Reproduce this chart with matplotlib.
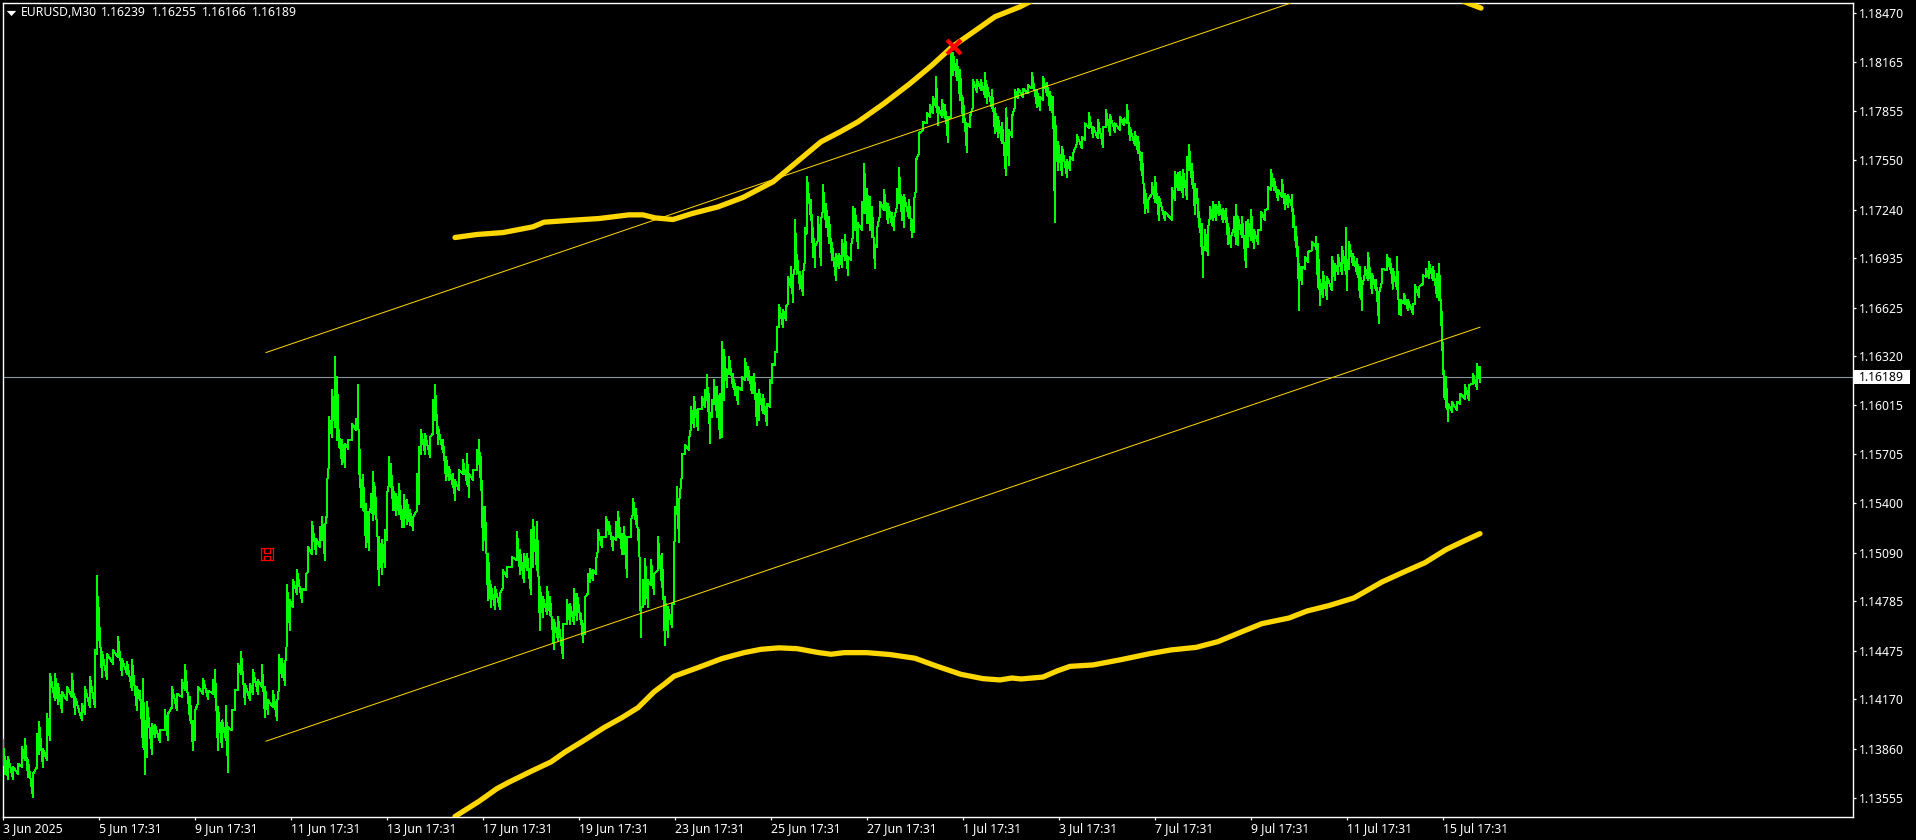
#!/usr/bin/env python3
import matplotlib
matplotlib.use("Agg")
import matplotlib.pyplot as plt
import numpy as np
from matplotlib.patches import Rectangle
from matplotlib.path import Path

W, H = 1916, 840

# green price trace. bar number on M30, low and high
# prices are in points above 1.00000
bar_x = [
    0,2,5,10,15,19,22,25,30,34,36,40,44,47,52,55,59,64,69,72,79,82,87,92,94,95,99,104,110,115,119,124,129,134,137,
    140,142,144,149,152,157,162,165,169,174,179,182,187,190,192,195,200,205,210,212,215,219,223,225,229,232,235,238,
    242,247,250,255,259,262,265,270,274,276,279,282,
    284,287,290,294,299,303,305,309,313,317,319,322,324,326,329,332,334,336,339,342,345,349,353,355,356,358,360,363,
    366,368,370,372,374,376,379,382,384,386,388,390,393,396,399,401,404,407,410,414,416,418,422,427,430,432,435,440,
    443,446,450,452,456,460,464,466,470,474,476,478,480,482,485,488,492,497,500,504,509,514,517,521,524,528,530,534,
    537,540,544,547,551,555,560,564,567,571,574,578,580,582,585,587,590,593,595,599,603,606,610,613,615,619,621,624,
    628,630,633,636,638,640,642,645,648,651,655,659,662,665,669,671,672,674,676,679,682,686,688,691,695,
    699,702,704,706,707,709,711,714,717,719,721,724,726,730,732,735,739,742,745,749,751,754,756,760,764,767,769,772,
    774,776,780,783,785,788,790,792,794,797,800,802,804,808,810,812,815,818,820,823,826,829,833,836,839,842,845,848,
    850,852,855,859,861,864,867,869,872,874,877,881,885,889,891,894,896,899,901,906,909,911,913,
    916,920,924,927,930,933,935,939,942,945,948,950,954,957,960,964,967,970,974,978,982,984,989,992,995,999,1003,1006,
    1009,1012,1015,1020,1025,1029,1034,1037,1040,1044,1047,1050,1052,1055,1059,1064,1067,1070,1074,1079,1082,1086,
    1090,1095,1100,1103,1107,1112,1117,1121,1124,1127,1132,1135,1139,1142,1145,1149,1152,1156,1162,1169,1172,1175,
    1177,1180,1184,1186,1189,1192,1194,1196,1199,1200,1202,1205,1207,1210,1213,1216,1220,1223,1225,1228,1231,1233,
    1235,1239,1243,1245,1248,1251,1255,1258,1262,1265,1268,1271,1275,1279,1282,1285,1289,1290,1293,1295,1296,1299,
    1302,1305,1309,1313,1315,1317,1320,1324,1329,1332,1335,1339,1343,1344,1346,1350,1354,1357,1359,1362,1365,1369,
    1373,1376,1379,1384,1387,1390,1394,1396,1398,1401,1405,1410,1412,1416,1420,1423,1426,1430,1434,1436,1438,1439,
    1440,1441,1443,1445,1449,1454,1457,1462,1466,1470,1474,1477,
]
bar_low = [
    13829,13704,13673,13673,13704,13746,13788,13683,13558,13746,13829,13746,13788,13913,14164,14143,14091,14164,14185,
    14080,14038,14080,14122,14122,14456,14540,14310,14300,14394,14436,14321,14331,14226,14101,14164,
    13871,13704,13809,13829,13934,13903,13976,13913,14122,14101,14185,14226,14038,13850,13913,14143,14206,14174,14206,
    14185,13850,13871,13913,13714,13976,14101,14226,14331,14143,14164,14206,14206,14247,14059,14080,14122,14038,14247,
    14310,14258,
    14540,14603,14749,14833,14780,14854,14968,15083,15083,15125,15167,15042,15334,15648,15815,15878,15794,15752,15648,
    15627,15742,15794,15857,15878,15585,15376,15355,15125,15104,15376,15292,15334,15230,14885,14958,15000,15167,15522,
    15501,15355,15324,15334,15251,15251,15272,15261,15230,15355,15397,15710,15710,15690,15836,15919,15773,15721,15543,
    15543,15501,15418,15480,15585,15522,15439,15543,15606,15648,15480,15104,15167,14791,14749,14739,14739,14874,14937,
    15000,15042,14958,14906,14979,14833,15000,14979,14603,14686,14707,14697,14486,14540,14431,14645,14645,14645,14665,
    14645,14527,14582,14833,14906,14916,14958,15104,15125,15188,15209,15104,15167,15188,15083,15083,14937,15188,15334,
    15272,15125,14561,14749,14770,14749,14885,14833,14979,14874,14509,14561,14624,14770,15251,15334,15157,15585,15710,
    15731,15878,15878,15857,
    15993,16003,16045,15899,15774,15941,16024,15941,15805,15815,16045,16129,16212,16129,16077,16024,16108,16171,16171,
    16087,16087,15888,15920,15962,15888,16003,16150,16265,16348,16505,16505,16547,16651,16756,16662,16881,16839,16745,
    16704,16923,17090,17174,16944,16881,17048,16892,17237,17132,17028,16923,16798,16871,16881,16923,16829,16923,17069,
    17111,16996,17111,17216,17153,17111,17069,16871,17007,17205,17237,17153,17143,17111,17257,17278,17174,17132,17184,
    17069,17101,17362,
    17592,17738,17780,17822,17843,17885,17770,17822,17811,17665,17811,18083,18052,17926,17791,17602,17759,17885,17979,
    17989,17947,17906,17874,17717,17697,17655,17456,17519,17697,17885,17937,17947,17968,17999,17885,17864,17926,17958,
    17864,17822,17161,17487,17456,17446,17487,17550,17655,17623,17676,17749,17697,17686,17634,17759,17707,17728,17738,
    17770,17780,17676,17644,17592,17456,17216,17226,17341,17289,17174,17174,17174,17299,17362,
    17362,17320,17309,17487,17403,17215,17278,17132,16964,16818,16985,16954,17194,17173,17173,17205,17163,17163,17027,
    17006,17121,17027,17017,17069,16881,17006,17048,16996,17027,17111,17173,17246,17362,17362,17299,17320,17246,17257,
    17257,17132,17006,16881,16609,16776,16870,16912,16985,17006,16755,16640,16693,16682,16734,16797,16839,16839,16839,
    16734,16870,16891,16839,16693,16609,16839,16797,16714,16734,16530,16787,16860,16870,16745,16745,16588,16578,16651,
    16609,16588,16651,16693,16776,16818,16808,16797,16693,16672,16599,16358,16212,16066,16003,15915,15972,15982,16024,
    16055,16045,16149,16118,16160,
]
bar_high = [
    13913,13809,13809,13746,13767,13871,13923,13788,13704,13955,14028,13861,14080,14331,14331,14268,14216,14247,14331,
    14185,14143,14247,14310,14477,14941,14812,14467,14456,14477,14561,14425,14404,14415,14247,14226,
    14300,14038,14153,14017,14007,13976,14101,14080,14247,14206,14289,14383,14185,14038,14101,14247,14300,14226,14289,
    14352,14122,14038,14132,13997,14101,14226,14394,14467,14268,14268,14352,14289,14383,14247,14164,14226,14143,14446,
    14425,14373,
    14885,14791,14916,14979,14864,14958,15125,15282,15177,15251,15313,15251,15522,15940,16107,16316,16191,15836,15794,
    15773,15794,15899,15930,16139,15857,15543,15575,15397,15334,15460,15595,15501,15292,15188,15167,15230,15460,15690,
    15648,15501,15460,15522,15355,15449,15418,15355,15313,15585,15752,15857,15836,15815,16045,16139,15878,15794,15690,
    15627,15585,15543,15606,15669,15710,15585,15606,15731,15794,15690,15376,15376,15083,14885,14874,14833,14979,15000,
    15062,15219,15104,15083,15083,15230,15292,15282,14874,14812,14874,14812,14665,14686,14645,14791,14770,14864,14833,
    14707,14645,14812,14958,14989,14979,15042,15230,15188,15313,15282,15188,15282,15345,15209,15251,15188,15292,15428,
    15366,15230,14749,14916,15052,14916,15042,14958,15188,15083,14812,14749,14770,15062,15376,15501,15397,15710,15763,
    15794,16003,16066,15992,
    16066,16108,16202,16087,15962,16045,16171,16129,16087,16411,16359,16233,16317,16212,16150,16129,16191,16306,16254,
    16191,16212,16087,16108,16077,16024,16171,16275,16348,16505,16641,16610,16630,16818,16881,16818,17174,16954,16850,
    16839,17122,17446,17299,17122,17007,17195,17174,17393,17278,17195,17028,16965,16965,17048,17080,16944,17017,17257,
    17247,17153,17289,17529,17372,17320,17257,17017,17122,17289,17362,17278,17216,17184,17372,17498,17320,17331,17299,
    17174,17299,17550,
    17717,17791,17843,17895,17947,18073,17885,17926,17895,17822,18219,18219,18177,18115,17937,17780,17822,18052,18052,
    18052,18094,18020,17989,17874,17822,17780,17874,17738,17822,17989,17999,17999,18020,18094,17989,17947,18073,18031,
    17979,17947,17822,17665,17634,17550,17571,17592,17707,17697,17780,17843,17759,17801,17759,17864,17832,17780,17822,
    17811,17895,17749,17728,17697,17592,17362,17299,17404,17446,17320,17226,17373,17477,17467,
    17476,17487,17570,17644,17529,17403,17372,17226,17152,17006,17111,17121,17257,17288,17267,17288,17247,17247,17152,
    17069,17194,17267,17194,17194,17163,17173,17236,17111,17111,17226,17236,17382,17487,17435,17362,17424,17341,17330,
    17330,17246,17132,17006,16902,16881,16943,16975,17037,17069,17027,16797,16849,16818,16943,16902,16954,17006,17127,
    16881,17037,16964,16933,16881,16755,16881,16971,16839,16797,16714,16870,16954,16933,16870,16943,16672,16672,16714,
    16672,16651,16766,16755,16829,16870,16912,16881,16839,16902,16672,16599,16400,16191,16191,16024,16034,16034,16087,
    16139,16139,16212,16275,16254,
]

# thick gold bands
upper_band_x = [452,474,500,530,541,566,596,626,640,652,670,689,715,740,770,792,818,837,855,881,907,929,949,973,992,1017,1030,1045]
upper_band_y = [17065,17084,17096,17132,17161,17172,17184,17207,17207,17188,17178,17215,17257,17316,17414,17529,17665,17727,17790,17905,18030,18145,18260,18365,18449,18511,18553,18600]
upper_tail_x = [1450,1465,1478]
upper_tail_y = [18572,18534,18503]
lower_band_x = [452,476,494,505,530,548,562,580,601,619,635,651,662,671,694,719,741,758,776,794,816,828,841,864,887,912,933,958,980,997,
                1009,1018,1040,1054,1067,1090,1118,1147,1168,1193,1215,1240,1259,1286,1304,1326,1351,1379,1401,1422,1443,1461,1477]
lower_band_y = [13436,13531,13611,13648,13725,13778,13840,13909,13993,14056,14118,14217,14269,14315,14367,14426,14463,14484,14493,14488,14463,14453,14463,14463,14451,14428,14380,14327,14300,14292,
                14304,14298,14310,14348,14377,14386,14419,14457,14480,14496,14532,14597,14645,14680,14724,14758,14806,14906,14969,15027,15109,15163,15209]

# thin channel lines
channel_x = [263, 1477]
channel_upper = [1.16344, 1.18939]
channel_lower = [1.13908, 1.16503]

price_ticks = [1.18470, 1.18165, 1.17855, 1.17550, 1.17240, 1.16935, 1.16625, 1.16320, 1.16015,
               1.15705, 1.15400, 1.15090, 1.14785, 1.14475, 1.14170, 1.13860, 1.13555]
price_labels = ["%.5f" % p for p in price_ticks]
time_labels = ["3 Jun 2025", "5 Jun 17:31", "9 Jun 17:31", "11 Jun 17:31", "13 Jun 17:31", "17 Jun 17:31",
               "19 Jun 17:31", "23 Jun 17:31", "25 Jun 17:31", "27 Jun 17:31", "1 Jul 17:31", "3 Jul 17:31",
               "7 Jul 17:31", "9 Jul 17:31", "11 Jul 17:31", "15 Jul 17:31"]
time_ticks = [96 * i for i in range(len(time_labels))]

bid = 1.16189
header_parts = ["EURUSD,M30", "1.16239", "1.16255", "1.16166", "1.16189"]
header_px = [21, 101, 151.5, 201.5, 251.5]
cross_bar, cross_price = 951, 1.18260
icon_bar, icon_price = 264, 1.15080

GREEN = "#00FF00"
GOLD = "#FFD700"
FONT = "Noto Sans"

plt.rcParams["font.family"] = FONT

def pts(values):
    return 1 + np.array(values) / 1e5

fig = plt.figure(figsize=(W / 100, H / 100), dpi=100, facecolor="black")
left, right, top, bottom = 2.5, 1852.5, 2.5, 816.5
ax = fig.add_axes([left / W, 1 - bottom / H, (right - left) / W, (bottom - top) / H], facecolor="black")
ax.set_xlim(-0.5, 1849.5)
ax.set_ylim(1.13436, 1.18538)

for s in ax.spines.values():
    s.set_color("white")
    s.set_linewidth(1.0)
ax.yaxis.tick_right()
ax.set_yticks(price_ticks)
ax.set_yticklabels(price_labels, fontsize=8.8, color="white")
ax.set_xticks(time_ticks)
ax.set_xticklabels(time_labels, fontsize=8.8, color="white", ha="left")
ax.tick_params(axis="y", colors="white", length=2.5, width=0.9, pad=2.5)
ax.tick_params(axis="x", colors="white", length=2.5, width=0.9, pad=1.5)

# bid line goes under everything
ax.axhline(bid, color="#8A94A0", lw=0.8, zorder=1)

# zigzag through low/high so the trace looks solid and spiky
xs = np.array(bar_x)
lows = pts(bar_low)
highs = pts(bar_high)
zig_x = np.repeat(xs, 2)
zig_y = np.column_stack([lows, highs]).ravel()
ax.plot(zig_x, zig_y, color=GREEN, lw=0.72, antialiased=False, zorder=3)
ax.vlines(xs, lows, highs, color=GREEN, lw=1.44, antialiased=False, zorder=3)

ax.plot(channel_x, channel_upper, color=GOLD, lw=0.72, zorder=4)
ax.plot(channel_x, channel_lower, color=GOLD, lw=0.72, zorder=4)

for bx, by in [(upper_band_x, upper_band_y), (upper_tail_x, upper_tail_y), (lower_band_x, lower_band_y)]:
    ax.plot(bx, pts(by), color=GOLD, lw=3.8, solid_capstyle="round", solid_joinstyle="round", zorder=5)

ax.plot([cross_bar], [cross_price], marker="x", color="#FF0000", ms=9.5, mew=3, zorder=6)

# little floppy disk mark
floppy = Path([(-1, -1), (1, -1), (1, 1), (-1, 1), (-1, -1),
               (-0.6, 1), (-0.6, 0.1), (0.6, 0.1), (0.6, 1),
               (-0.5, -1), (-0.5, -0.4), (0.5, -0.4), (0.5, -1)],
              [Path.MOVETO, Path.LINETO, Path.LINETO, Path.LINETO, Path.CLOSEPOLY,
               Path.MOVETO, Path.LINETO, Path.LINETO, Path.LINETO,
               Path.MOVETO, Path.LINETO, Path.LINETO, Path.LINETO])
ax.plot([icon_bar], [icon_price], marker=floppy, ms=8, mfc="none", mec="#FF0000", mew=0.9, zorder=6)

# header, each part placed on its own since the spacing differs from this font
for part, px in zip(header_parts, header_px):
    ax.annotate(part, xy=(0, 1), xycoords="axes fraction", xytext=(px - left, -10), textcoords="offset pixels",
                color="white", fontsize=8.8, ha="left", va="center")
tri = Path([(-1, 0.55), (1, 0.55), (0, -0.55)])
ax.plot([8.0 / (right - left)], [1 - 10 / (bottom - top)], marker=tri, color="white", ms=6.8, mew=0,
        transform=ax.transAxes, clip_on=False)

# bid tag on the price scale
bid_y = ax.transData.transform((0, bid))[1]
fig.add_artist(Rectangle((1854 / W, (bid_y - 7) / H), 56 / W, 14 / H, transform=fig.transFigure, fc="white", ec="none"))
fig.text(1859 / W, bid_y / H, "1.16189", color="black", fontsize=8.8, ha="left", va="center")

fig.savefig("out.png", dpi=100, facecolor="black")
